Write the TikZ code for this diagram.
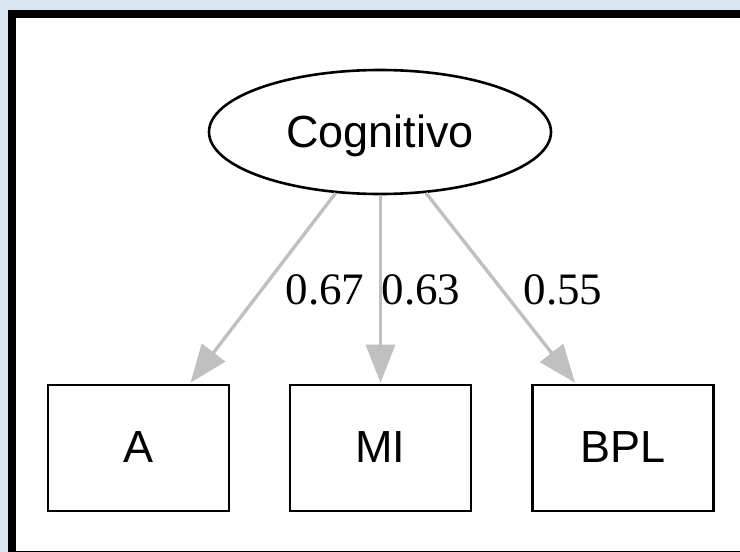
\documentclass[tikz,border=0pt]{standalone}
\usepackage{fontspec}
\setmainfont{Liberation Serif}
\newfontfamily\arialfont{Liberation Sans}
\usetikzlibrary{shapes.geometric,arrows.meta,calc}

\definecolor{pagebg}{HTML}{DCE6F2}
\definecolor{edgegray}{HTML}{C0C0C0}

\tikzset{
  latent/.style={draw=black, line width=2.6pt, ellipse, inner sep=0pt,
    minimum width=342pt, minimum height=124pt,
    font=\arialfont\fontsize{45}{54}\selectfont,
    text height=34pt, text depth=4pt},
  indicator/.style={draw=black, line width=2.6pt, rectangle, inner sep=0pt,
    minimum width=181pt, minimum height=126pt,
    font=\arialfont\fontsize{45}{54}\selectfont,
    text height=32pt, text depth=4pt},
  loading/.style={draw=edgegray, line width=3.4pt,
    -{Triangle[length=38pt,width=29pt]}},
  weight/.style={anchor=base, inner sep=0pt,
    font=\fontsize{45}{54}\selectfont}
}

\begin{document}
\begin{tikzpicture}[x=1pt, y=-1pt]
  % page background and heavy frame
  \fill[pagebg] (0,0) rectangle (740,552);
  \fill[black] (8,10) rectangle (740,552);
  \fill[white] (16,18) rectangle (740,551);
  \useasboundingbox (0,0) rectangle (740,552);

  % factor and its indicators
  \node[latent] (cog) at (380,132) {Cognitivo};
  \node[indicator] (a)   at (138.5,448) {A};
  \node[indicator] (mi)  at (380.5,448) {MI};
  \node[indicator] (bpl) at (623,448)   {BPL};

  % loadings
  \draw[loading] (cog.234) -- ($(a.north)+(52,-1)$);
  \draw[loading] (cog.south -| mi.north) -- ($(mi.north)+(0,-1)$);
  \draw[loading] (cog.307) -- ($(bpl.north)+(-48,-1)$);

  \node[weight] (w1) at (325,304) {0.67};
  \node[weight] (w2) at (421,304) {0.63};
  \node[weight] (w3) at (563,304) {0.55};
\end{tikzpicture}
\end{document}
